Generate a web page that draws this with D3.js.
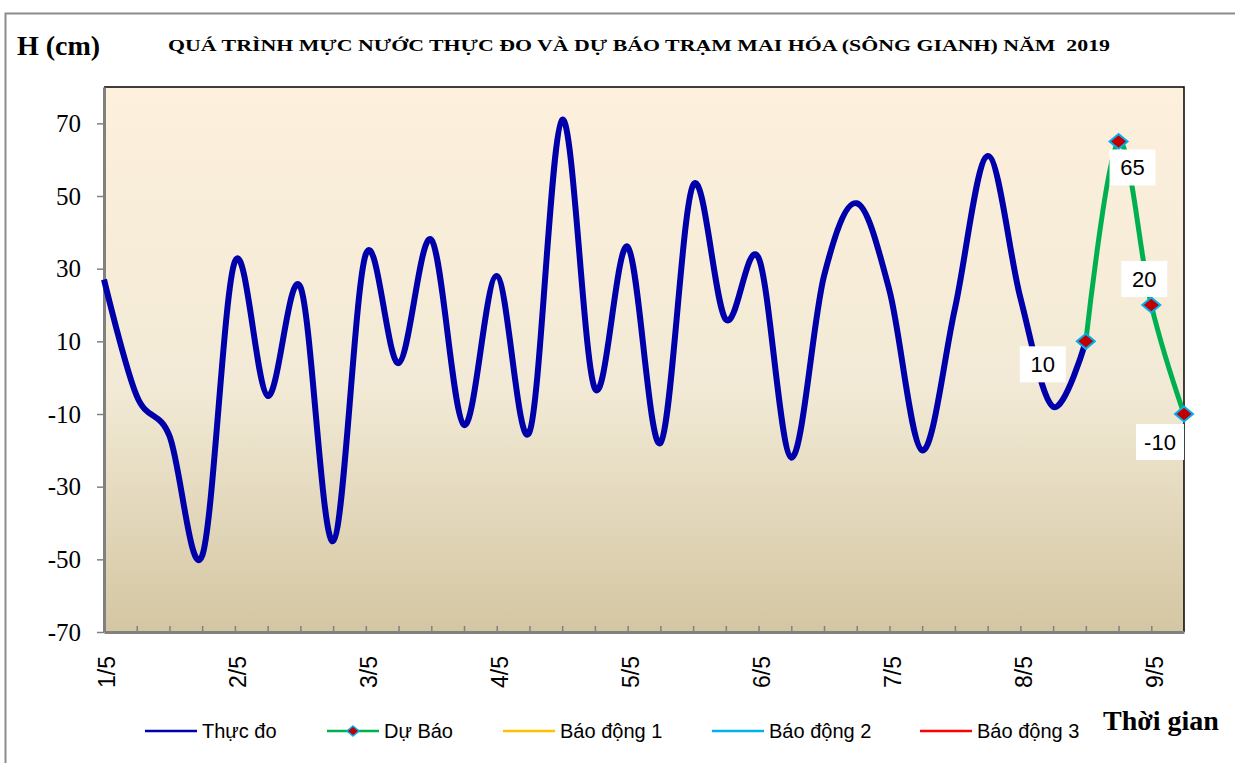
<!DOCTYPE html>
<html>
<head>
<meta charset="utf-8">
<script src="https://cdn.jsdelivr.net/npm/d3@7"></script>
<style>
  body { margin: 0; background: #fff; }
  svg { display: block; }
  .axis path { stroke: #808080; stroke-width: 3; }
  .axis line { stroke: #808080; stroke-width: 1.5; }
  .y.axis text { font-family: "Liberation Serif", "Times New Roman", serif; font-size: 25px; fill: #000; }
  .x.axis text { font-family: "Liberation Sans", Arial, sans-serif; font-size: 23px; fill: #000; }
  .legend text { font-family: "Liberation Sans", Arial, sans-serif; font-size: 20px; fill: #000; }
  .data-label { font-family: "Liberation Sans", Arial, sans-serif; font-size: 22px; fill: #000; }
</style>
</head>
<body>
<svg width="1235" height="763"></svg>
<script>
// one value every 6 hours, 4 steps per day
var dayLabels = ["1/5", "2/5", "3/5", "4/5", "5/5", "6/5", "7/5", "8/5", "9/5"];
var stepsPerDay = 4;
var observed = [27, -5, -16, -49, 32, -5, 25, -45, 34, 4, 38, -13, 28, -15, 71, -3,
                36, -18, 53, 16, 33, -22, 28, 48, 24, -20, 19, 61, 22, -8, 10];
var forecastStart = 30;
var forecast = [10, 65, 20, -10];
var yTicks = [-70, -50, -30, -10, 10, 30, 50, 70];
var seriesNames = ["Thực đo", "Dự Báo", "Báo động 1", "Báo động 2", "Báo động 3"];
var seriesColors = ["#0000AA", "#00B050", "#FFC000", "#00B0F0", "#FF0000"];

var title = "QUÁ TRÌNH MỰC NƯỚC THỰC ĐO VÀ DỰ BÁO TRẠM MAI HÓA (SÔNG GIANH) NĂM  2019";

var margin = {top: 87, left: 104, right: 51, bottom: 131},
    width = 1235 - margin.left - margin.right,
    height = 763 - margin.top - margin.bottom;

var nSteps = forecastStart + forecast.length - 1;

var xScale = d3.scaleLinear().domain([0, nSteps]).range([0, width]);
var yScale = d3.scaleLinear().domain([-70, 80]).range([height, 0]);

var svg = d3.select("svg");

// outer chart frame
svg.append("rect")
    .attr("x", 5.5).attr("y", 13.5)
    .attr("width", 1240).attr("height", 760)
    .attr("fill", "#fff")
    .attr("stroke", "#8c8c8c")
    .attr("stroke-width", 2);

var defs = svg.append("defs");
var grad = defs.append("linearGradient")
    .attr("id", "bg").attr("x1", 0).attr("y1", 0).attr("x2", 0).attr("y2", 1);
grad.append("stop").attr("offset", "0%").attr("stop-color", "#FDF0DC");
grad.append("stop").attr("offset", "55%").attr("stop-color", "#F2EAD6");
grad.append("stop").attr("offset", "100%").attr("stop-color", "#D4C6A2");

var g = svg.append("g")
    .attr("transform", "translate(" + margin.left + "," + margin.top + ")");

g.append("rect")
    .attr("width", width).attr("height", height)
    .attr("fill", "url(#bg)");

// top and right border
g.append("path")
    .attr("d", "M0,0H" + width + "V" + height)
    .attr("fill", "none")
    .attr("stroke", "#000")
    .attr("stroke-width", 1.5);

// x axis: tick every step, label every day
var xAxis = d3.axisBottom(xScale)
    .tickValues(d3.range(1, nSteps))
    .tickSizeInner(-6)
    .tickSizeOuter(0)
    .tickFormat(function(i) { return i % stepsPerDay === 0 ? dayLabels[i / stepsPerDay] : ""; });

var xAxisG = g.append("g")
    .attr("class", "x axis")
    .attr("transform", "translate(0," + height + ")")
    .call(xAxis);

xAxisG.selectAll("text")
    .attr("transform", "rotate(-90)")
    .attr("x", -24)
    .attr("y", 3)
    .attr("dy", "0.35em")
    .style("text-anchor", "end");

// the first day label sits on the y axis
xAxisG.append("text")
    .attr("transform", "translate(3,0) rotate(-90)")
    .attr("x", -24)
    .attr("dy", "0.35em")
    .style("text-anchor", "end")
    .text(dayLabels[0]);

g.append("g")
    .attr("class", "y axis")
    .call(d3.axisLeft(yScale)
        .tickValues(yTicks)
        .tickSizeInner(7)
        .tickSizeOuter(0)
        .tickPadding(16)
        .tickFormat(function(d) { return String(d); }));

var line = d3.line()
    .x(function(d) { return xScale(d.i); })
    .y(function(d) { return yScale(d.v); })
    .curve(d3.curveCardinal.tension(0));

var obsData = observed.map(function(v, i) { return {i: i, v: v}; });
var fcData = forecast.map(function(v, k) { return {i: forecastStart + k, v: v}; });

g.append("path")
    .datum(obsData)
    .attr("d", line)
    .attr("fill", "none")
    .attr("stroke", seriesColors[0])
    .attr("stroke-width", 6)
    .attr("stroke-linejoin", "round");

g.append("path")
    .datum(fcData)
    .attr("d", line)
    .attr("fill", "none")
    .attr("stroke", seriesColors[1])
    .attr("stroke-width", 5)
    .attr("stroke-linejoin", "round");

function diamond(w, h) {
    return "M0," + (-h) + "L" + w + ",0L0," + h + "L" + (-w) + ",0Z";
}

g.selectAll(".fc-dot")
    .data(fcData)
  .enter().append("path")
    .attr("class", "fc-dot")
    .attr("transform", function(d) { return "translate(" + xScale(d.i) + "," + yScale(d.v) + ")"; })
    .attr("d", diamond(9, 7.5))
    .attr("fill", "#C00000")
    .attr("stroke", "#00B0F0")
    .attr("stroke-width", 2);

// data labels with white boxes
var labelOffsets = [[-43, 23], [14, 26], [-7, -26], [-24, 28]];
var labels = g.selectAll(".label-g")
    .data(fcData)
  .enter().append("g")
    .attr("class", "label-g")
    .attr("transform", function(d, k) {
        return "translate(" + (xScale(d.i) + labelOffsets[k][0]) + "," + (yScale(d.v) + labelOffsets[k][1]) + ")";
    });

labels.append("rect")
    .attr("x", function(d) { return d.v < 0 ? -24 : -23; })
    .attr("y", -18)
    .attr("width", function(d) { return d.v < 0 ? 48 : 46; })
    .attr("height", 36)
    .attr("fill", "#fff");

labels.append("text")
    .attr("class", "data-label")
    .attr("text-anchor", "middle")
    .attr("dy", "0.36em")
    .text(function(d) { return d.v; });

// titles
svg.append("text")
    .attr("x", 17).attr("y", 55)
    .style("font-family", "'Liberation Serif', 'Times New Roman', serif")
    .style("font-weight", "bold")
    .style("font-size", "28px")
    .text("H (cm)");

svg.append("text")
    .attr("x", 168).attr("y", 51)
    .attr("textLength", 942)
    .attr("lengthAdjust", "spacingAndGlyphs")
    .style("white-space", "pre")
    .style("font-family", "'Liberation Serif', 'Times New Roman', serif")
    .style("font-weight", "bold")
    .style("font-size", "17px")
    .text(title);

svg.append("text")
    .attr("x", 1103).attr("y", 730)
    .style("font-family", "'Liberation Serif', 'Times New Roman', serif")
    .style("font-weight", "bold")
    .style("font-size", "28px")
    .text("Thời gian");

// legend
var legendX = [145, 327, 503, 712, 920];
var legend = svg.append("g")
    .attr("class", "legend")
    .selectAll("g")
    .data(seriesNames)
  .enter().append("g")
    .attr("transform", function(d, k) { return "translate(" + legendX[k] + ",731)"; });

legend.append("line")
    .attr("x1", 0).attr("x2", 52)
    .attr("stroke", function(d, k) { return seriesColors[k]; })
    .attr("stroke-width", 2.5);

legend.filter(function(d, k) { return k === 1; })
  .append("path")
    .attr("transform", "translate(26,0)")
    .attr("d", diamond(6, 5))
    .attr("fill", "#C00000")
    .attr("stroke", "#00B0F0")
    .attr("stroke-width", 1.5);

legend.append("text")
    .attr("x", 57)
    .attr("dy", "0.36em")
    .text(function(d) { return d; });
</script>
</body>
</html>
